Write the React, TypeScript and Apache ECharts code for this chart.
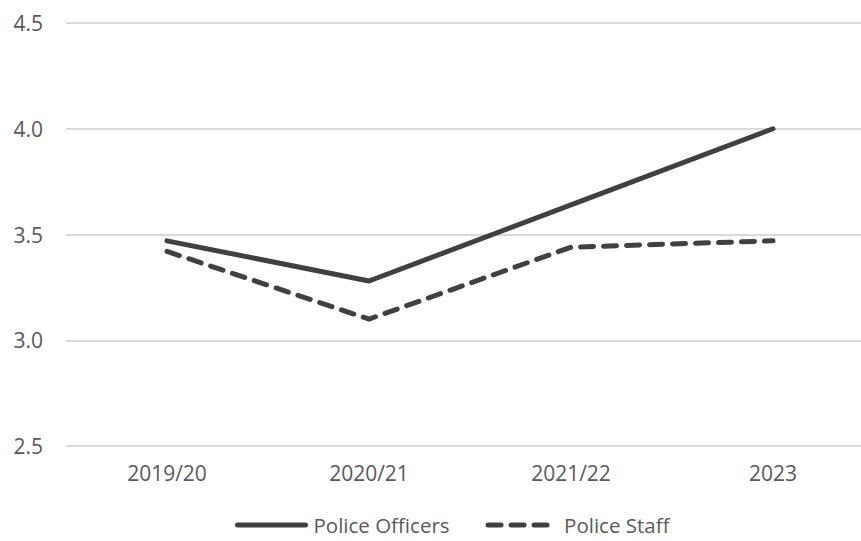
import React, { useEffect, useRef } from "react";
import * as echarts from "echarts";

const years = ["2019/20", "2020/21", "2021/22", "2023"];
const policeOfficers = [3.47, 3.28, 3.64, 4.0];
const policeStaff = [3.42, 3.1, 3.44, 3.47];
const yTicks = { min: 2.5, max: 4.5, step: 0.5 };

const FONT = "'Open Sans', 'Noto Sans', sans-serif";
const TEXT = "#595959";
const LINE = "#404040";

export default function App() {
  const ref = useRef<HTMLDivElement>(null);

  useEffect(() => {
    if (!ref.current) return;
    const chart = echarts.init(ref.current, undefined, { renderer: "svg" });
    chart.setOption({
      animation: false,
      backgroundColor: "#ffffff",
      textStyle: { fontFamily: FONT },
      grid: {
        left: 66,
        right: -13,
        top: 23,
        bottom: 95,
        containLabel: false,
        outerBoundsMode: "none",
      },
      legend: {
        left: 231,
        top: 510,
        itemWidth: 68,
        itemHeight: 14,
        itemGap: 36,
        padding: 4,
        itemStyle: { opacity: 0 },
        lineStyle: { width: 5 },
        textStyle: {
          color: TEXT,
          fontSize: 20.5,
          lineHeight: 22,
          fontFamily: FONT,
          padding: [0, 0, 0, 3],
        },
        data: ["Police Officers", "Police Staff"],
      },
      xAxis: {
        type: "category",
        data: years,
        boundaryGap: true,
        axisLine: { show: false },
        axisTick: { show: false },
        axisLabel: { color: TEXT, fontSize: 21, fontFamily: FONT, margin: 16 },
        splitLine: { show: false },
      },
      yAxis: {
        type: "value",
        min: yTicks.min,
        max: yTicks.max,
        interval: yTicks.step,
        axisLine: { show: false },
        axisTick: { show: false },
        axisLabel: {
          color: TEXT,
          fontSize: 21,
          fontFamily: FONT,
          margin: 23,
          formatter: (v: number) => v.toFixed(1),
        },
        splitLine: { lineStyle: { color: "#d9d9d9", width: 2 } },
      },
      series: [
        {
          name: "Police Officers",
          type: "line",
          data: policeOfficers,
          symbol: "none",
          lineStyle: { color: LINE, width: 5, cap: "round", join: "round" },
          itemStyle: { color: LINE },
        },
        {
          name: "Police Staff",
          type: "line",
          data: policeStaff,
          symbol: "none",
          lineStyle: {
            color: LINE,
            width: 5,
            type: [13, 10],
            cap: "round",
            join: "round",
          },
          itemStyle: { color: LINE },
        },
      ],
    });
    return () => chart.dispose();
  }, []);

  return (
    <div
      ref={ref}
      style={{ position: "fixed", left: 0, top: 0, width: 861, height: 541 }}
    />
  );
}
